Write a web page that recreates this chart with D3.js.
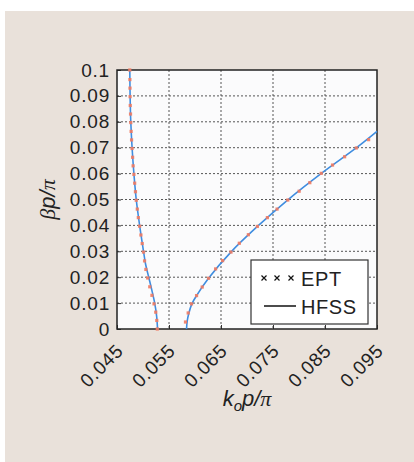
<!DOCTYPE html>
<html>
<head>
<meta charset="utf-8">
<script src="https://cdn.jsdelivr.net/npm/d3@7"></script>
<style>
  body { margin: 0; background: #fff; }
  svg { display: block; font-family: "Liberation Sans", Arial, sans-serif; }
</style>
</head>
<body>
<div id="chart"></div>
<script>
// x = k_o p / pi, y = beta p / pi
let xTicks = [0.045, 0.055, 0.065, 0.075, 0.085, 0.095];
let yTicks = [0, 0.01, 0.02, 0.03, 0.04, 0.05, 0.06, 0.07, 0.08, 0.09, 0.1];
let yTickLabels = ["0", "0.01", "0.02", "0.03", "0.04", "0.05", "0.06", "0.07", "0.08", "0.09", "0.1"];

// EPT markers, lower branch
let eptLeftK = [0.05275, 0.05265, 0.05245, 0.05212, 0.05172, 0.05130, 0.05090, 0.05055, 0.05030, 0.05010,
  0.04985, 0.04960, 0.04935, 0.04910, 0.04890, 0.04870, 0.04855, 0.04840, 0.04825, 0.04810,
  0.04800, 0.04790, 0.04780, 0.04772, 0.04765, 0.04760, 0.04755, 0.04752, 0.04750, 0.04748, 0.04746];
let eptLeftB = [0, 0.0033, 0.0065, 0.0097, 0.013, 0.0163, 0.0197, 0.023, 0.0263, 0.0297,
  0.033, 0.0363, 0.0397, 0.043, 0.0463, 0.0497, 0.053, 0.0563, 0.0597, 0.063,
  0.0663, 0.0697, 0.073, 0.0763, 0.0797, 0.083, 0.0863, 0.0897, 0.093, 0.0963, 0.1];

// EPT markers, upper branch
let eptRightK = [0.05817, 0.05869, 0.05933, 0.06030, 0.06139, 0.06261, 0.06396, 0.06531, 0.06692, 0.06852, 0.07026,
  0.07199, 0.07392, 0.07578, 0.07784, 0.08003, 0.08208, 0.08427, 0.08645, 0.08877, 0.09102, 0.09339];
let eptRightB = [0.0027, 0.0062, 0.0097, 0.0129, 0.0162, 0.0196, 0.0232, 0.0264, 0.0297, 0.0331, 0.0364,
  0.0396, 0.0430, 0.0463, 0.0498, 0.0532, 0.0565, 0.0601, 0.0633, 0.0665, 0.0699, 0.0731];

// HFSS curves
let hfssLeftK = [0.05280, 0.05262, 0.05225, 0.05170, 0.05110, 0.05050, 0.05010, 0.04935, 0.04870, 0.04825, 0.04790, 0.04765, 0.04752, 0.04746];
let hfssLeftB = [0, 0.005, 0.01, 0.015, 0.02, 0.025, 0.03, 0.04, 0.05, 0.06, 0.07, 0.08, 0.09, 0.1];
let hfssRightK = [0.05837, 0.05850, 0.05880, 0.05940, 0.06030, 0.06260, 0.06690, 0.07200, 0.07780, 0.08430, 0.09100, 0.09500];
let hfssRightB = [0, 0.003, 0.006, 0.0097, 0.0129, 0.0196, 0.0297, 0.0396, 0.0498, 0.0601, 0.0699, 0.0763];

let width = 414, height = 462;
let margin = {left: 117, right: 37, top: 70, bottom: 133};
let fontSize = 19;

let svg = d3.select("#chart").append("svg")
  .attr("width", width)
  .attr("height", height);

svg.append("rect")
  .attr("x", 5).attr("y", 11)
  .attr("width", width - 5).attr("height", height - 11)
  .attr("fill", "#e9e1da");

let xScale = d3.scaleLinear().domain([0.045, 0.095]).range([margin.left, width - margin.right]);
let yScale = d3.scaleLinear().domain([0, 0.1]).range([height - margin.bottom, margin.top]);

let x0 = xScale.range()[0], x1 = xScale.range()[1];
let y0 = yScale.range()[0], y1 = yScale.range()[1];

svg.append("rect")
  .attr("x", x0).attr("y", y1)
  .attr("width", x1 - x0).attr("height", y0 - y1)
  .attr("fill", "#fbfbfc");

// grid
svg.append("g").selectAll("line")
  .data(xTicks.slice(1, -1))
  .enter().append("line")
  .attr("x1", d => xScale(d)).attr("x2", d => xScale(d))
  .attr("y1", y1).attr("y2", y0)
  .attr("stroke", "#555").attr("stroke-width", 1).attr("stroke-dasharray", "2,2");

svg.append("g").selectAll("line")
  .data(yTicks.slice(1, -1))
  .enter().append("line")
  .attr("y1", d => yScale(d)).attr("y2", d => yScale(d))
  .attr("x1", x0).attr("x2", x1)
  .attr("stroke", "#555").attr("stroke-width", 1).attr("stroke-dasharray", "2,2");

// axes
let xAxis = d3.axisBottom(xScale).tickValues(xTicks).tickSize(-4).tickFormat(d3.format(".3f"));
let gx = svg.append("g")
  .attr("transform", `translate(0,${y0})`)
  .call(xAxis);
gx.select(".domain").remove();
gx.selectAll("line").attr("stroke", "#333");
gx.selectAll("text")
  .attr("font-size", fontSize)
  .attr("letter-spacing", 0.8)
  .attr("fill", "#222")
  .attr("text-anchor", "end")
  .attr("y", 0).attr("dy", 0)
  .attr("transform", "translate(7,23) rotate(-45)");

let yAxis = d3.axisLeft(yScale).tickValues(yTicks).tickSize(-4).tickFormat((d, i) => yTickLabels[i]);
let gy = svg.append("g")
  .attr("transform", `translate(${x0},0)`)
  .call(yAxis);
gy.select(".domain").remove();
gy.selectAll("line").attr("stroke", "#333");
gy.selectAll("text")
  .attr("font-size", fontSize)
  .attr("letter-spacing", 0.8)
  .attr("fill", "#222")
  .attr("x", -7);

// frame
svg.append("rect")
  .attr("x", x0).attr("y", y1)
  .attr("width", x1 - x0).attr("height", y0 - y1)
  .attr("fill", "none")
  .attr("stroke", "#222").attr("stroke-width", 1.5);

// HFSS lines
let line = d3.line()
  .x(d => xScale(d[0]))
  .y(d => yScale(d[1]))
  .curve(d3.curveCatmullRom);

svg.append("path")
  .datum(hfssLeftK.map((k, i) => [k, hfssLeftB[i]]))
  .attr("d", line)
  .attr("fill", "none").attr("stroke", "#3f8de0").attr("stroke-width", 1.6);

svg.append("path")
  .datum(hfssRightK.map((k, i) => [k, hfssRightB[i]]))
  .attr("d", line)
  .attr("fill", "none").attr("stroke", "#3f8de0").attr("stroke-width", 1.6);

// EPT markers
let ept = eptLeftK.map((k, i) => [k, eptLeftB[i]])
  .concat(eptRightK.map((k, i) => [k, eptRightB[i]]));

svg.append("g").selectAll("rect")
  .data(ept)
  .enter().append("rect")
  .attr("x", d => xScale(d[0]) - 1.6)
  .attr("y", d => yScale(d[1]) - 1.6)
  .attr("width", 3.2).attr("height", 3.2)
  .attr("fill", "#f07a62")
  .attr("opacity", 0.9);

// legend
let lg = svg.append("g").attr("transform", "translate(251,260)");
lg.append("rect")
  .attr("width", 117).attr("height", 64)
  .attr("fill", "#fff").attr("stroke", "#333").attr("stroke-width", 1.2);
[13, 26, 40].forEach(function(cx) {
  lg.append("path")
    .attr("d", `M${cx - 2.5},${18 - 2.5}L${cx + 2.5},${18 + 2.5}M${cx - 2.5},${18 + 2.5}L${cx + 2.5},${18 - 2.5}`)
    .attr("stroke", "#111").attr("stroke-width", 1.2);
});
lg.append("text").attr("x", 50).attr("y", 26).attr("font-size", 20).attr("letter-spacing", 0.6).attr("fill", "#222").text("EPT");
lg.append("line").attr("x1", 13).attr("x2", 45).attr("y1", 46).attr("y2", 46)
  .attr("stroke", "#111").attr("stroke-width", 1.5);
lg.append("text").attr("x", 50).attr("y", 54).attr("font-size", 20).attr("letter-spacing", 0.6).attr("fill", "#222").text("HFSS");

// axis titles
let ylab = svg.append("text")
  .attr("transform", `translate(55,${(y0 + y1) / 2}) rotate(-90)`)
  .attr("text-anchor", "middle")
  .attr("font-size", 22).attr("font-style", "italic").attr("fill", "#222");
ylab.append("tspan").attr("font-family", "Liberation Serif").text("β");
ylab.append("tspan").text("p/");
ylab.append("tspan").attr("font-family", "Liberation Serif").text("π");

let xlab = svg.append("text")
  .attr("x", (x0 + x1) / 2).attr("y", 406)
  .attr("text-anchor", "middle")
  .attr("font-size", 22).attr("font-style", "italic").attr("fill", "#222");
xlab.append("tspan").text("k");
xlab.append("tspan").attr("font-size", 15).attr("dy", 5).text("o");
xlab.append("tspan").attr("dy", -5).text("p/");
xlab.append("tspan").attr("font-family", "Liberation Serif").text("π");
</script>
</body>
</html>
